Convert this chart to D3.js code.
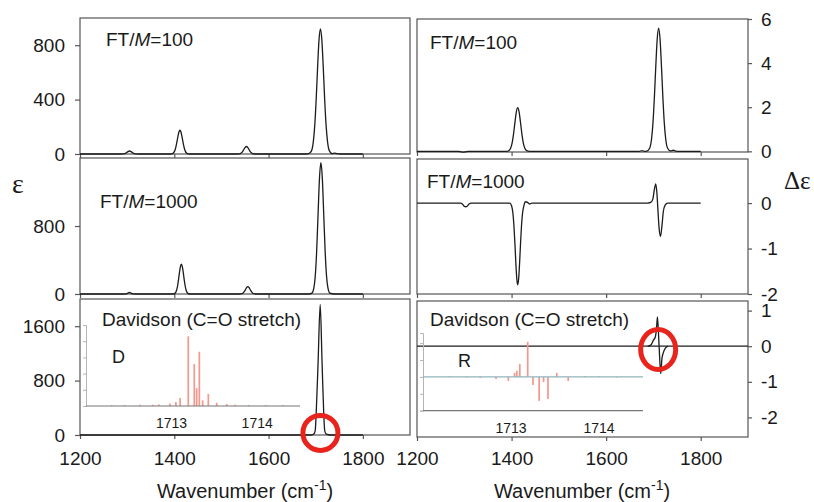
<!DOCTYPE html>
<html>
<head>
<meta charset="utf-8">
<script src="https://cdn.jsdelivr.net/npm/d3@7"></script>
<style>
body { margin: 0; background: #fff; }
svg text { font-family: "Liberation Sans", Arial, sans-serif; fill: #1a1a1a; }
</style>
</head>
<body>
<svg id="chart" width="814" height="502"></svg>
<script>
// ---- data ----
var xTicks = [1200, 1400, 1600, 1800];
var insetTicks = [1713, 1714];

// [wavenumber, epsilon]
var ftm100Eps = [[1200,0],[1285,0],[1293,1],[1297,6],[1301,16],[1305,22],[1309,16],[1313,6],[1317,1],[1325,0],
  [1390,0],[1395,1.5],[1399,11],[1402,33],[1404,61],[1406,97],[1408,134],[1410,164],[1412,175],[1414,164],[1416,134],[1418,97],[1420,61],[1422,33],[1425,11],[1429,1.5],[1435,0],
  [1535,0],[1540,3],[1544,14],[1547,30],[1550,47],[1553,55],[1556,47],[1559,30],[1562,14],[1566,3],[1571,0],
  [1680,0],[1685,2],[1691,23],[1695,93],[1698,212],[1701,403],[1704,637],[1707,839],[1710,920],[1713,839],[1716,637],[1719,403],[1722,212],[1725,93],[1729,23],[1735,3],[1740,6],[1745,2],[1752,0],[1800,0]];

var ftm1000Eps = [[1200,0],[1289,0],[1297,2],[1301,8],[1305,20],[1309,8],[1313,2],[1321,0],
  [1398,0],[1402,12],[1405,47],[1407,97],[1409,170],[1411,254],[1413,323],[1415,350],[1417,323],[1419,254],[1421,170],[1423,97],[1425,47],[1428,12],[1432,0],
  [1539,0],[1543,3],[1546,12],[1548,24],[1550,42],[1552,62],[1554,79],[1556,86],[1558,79],[1560,62],[1562,42],[1564,24],[1566,12],[1569,3],[1573,0],
  [1685,0],[1692,10],[1696,68],[1699,209],[1702,502],[1705,938],[1708,1363],[1711,1545],[1714,1363],[1717,938],[1720,502],[1723,209],[1726,68],[1730,10],[1740,0],[1800,0]];

var davidsonEps = [[1200,0],[1690,0],[1694,8],[1697,25],[1699,70],[1701,320],[1705,1060],[1709.5,1920],[1713.5,1060],[1717,320],[1719,70],[1721,25],[1725,8],[1729,0],[1800,0]];

// [wavenumber, delta epsilon]
var ftm100Delta = [[1200,0],[1288,0],[1293,-0.02],[1298,-0.04],[1303,-0.02],[1308,0],
  [1390,0],[1394,0.03],[1398,0.14],[1401,0.36],[1404,0.76],[1407,1.29],[1410,1.78],[1413,1.98],[1416,1.78],[1419,1.29],[1422,0.76],[1425,0.36],[1428,0.14],[1432,0.03],[1438,0],
  [1670,0],[1676,0.03],[1681,0],[1686,0.01],[1692,0.14],[1696,0.56],[1699,1.28],[1702,2.44],[1705,3.86],[1708,5.09],[1711,5.58],[1714,5.09],[1717,3.86],[1720,2.44],[1723,1.28],[1726,0.56],[1730,0.14],[1736,0.02],[1742,0.05],[1747,0.01],[1755,0],[1800,0]];

var ftm1000Delta = [[1200,0],[1292,0],[1296,-0.02],[1300,-0.07],[1303,-0.08],[1306,-0.07],[1310,-0.02],[1315,0],
  [1396,0],[1400,-0.06],[1403,-0.24],[1405,-0.5],[1407,-0.88],[1409,-1.31],[1411,-1.66],[1413,-1.8],[1415,-1.66],[1417,-1.31],[1419,-0.88],[1421,-0.5],[1423,-0.24],[1426,-0.06],[1429,0.03],[1433,0.02],[1438,-0.02],[1443,0],
  [1688,0],[1695,0.02],[1699,0.1],[1702,0.3],[1705,0.42],[1707.5,0.2],[1709.5,-0.15],[1712,-0.55],[1715,-0.73],[1718,-0.5],[1721,-0.18],[1725,-0.04],[1730,0],[1800,0]];

var davidsonDelta = [[1688,0],[1695,0.04],[1700,0.17],[1704,0.26],[1706.5,0.5],[1708.5,0.82],[1712,0],[1715.5,-0.77],[1718,-0.35],[1721,-0.18],[1725,-0.06],[1731,0]];

// inset stick spectra [wavenumber, intensity]
var davidsonD = [[1712.3,1],[1712.45,1],[1712.63,1.5],[1712.78,1.5],[1712.85,2],[1712.98,3],[1713.05,5],[1713.1,10],[1713.195,86],[1713.265,52],[1713.293,22],[1713.324,67],[1713.363,7],[1713.429,15],[1713.527,4],[1713.644,2.5],[1713.741,1.5],[1713.9,1],[1714.1,1],[1714.3,1]];
var davidsonR = [[1712.3,0.02],[1712.5,-0.02],[1712.65,-0.03],[1712.83,-0.06],[1712.97,-0.12],[1713.04,0.12],[1713.066,0.18],[1713.10,0.38],[1713.19,1.04],[1713.25,-0.24],[1713.32,-0.71],[1713.37,-0.15],[1713.42,-0.65],[1713.52,0.12],[1713.65,-0.12],[1713.84,0.03],[1714.0,0.02],[1714.2,-0.02]];

// red circle marks [wavenumber, value]
var circleLeft = [1710, 30];
var circleRight = [1710, -0.09];

// ---- drawing ----
var svg = d3.select("#chart");
var frameColor = "#555";
var lineColor = "#1c1c1c";
var labelBaseline = 465;
var plain = function (d) { return String(d) };   // hyphen minus, like the figure

var line = function (x, y) {
    return d3.line().x(function (d) { return x(d[0]) }).y(function (d) { return y(d[1]) }).curve(d3.curveMonotoneX);
}

function panel(cfg) {
    var x = d3.scaleLinear().domain([1200, 1900]).range([cfg.left, cfg.right]);
    var y = d3.scaleLinear().domain(cfg.yDomain).range([cfg.bottom, cfg.top]);
    var g = svg.append("g");

    g.append("rect")
        .attr("x", cfg.left).attr("y", cfg.top)
        .attr("width", cfg.right - cfg.left).attr("height", cfg.bottom - cfg.top)
        .attr("fill", "none").attr("stroke", frameColor).attr("stroke-width", 1.2);

    var xa = g.append("g")
        .attr("transform", "translate(0," + cfg.bottom + ")")
        .call(d3.axisBottom(x).tickValues(xTicks).tickSize(4)
            .tickPadding(labelBaseline - 13.5 - cfg.bottom - 4)
            .tickFormat(cfg.xLabels ? plain : function () { return "" }));
    xa.select(".domain").remove();
    xa.selectAll("line").attr("stroke", frameColor).attr("stroke-width", 1.2);
    xa.selectAll("text").style("font-size", "19px").attr("fill", "#1a1a1a");

    var axis = cfg.side == "left" ? d3.axisLeft(y).tickSize(5).tickPadding(10) : d3.axisRight(y).tickSize(4).tickPadding(9);
    var ya = g.append("g")
        .attr("transform", "translate(" + (cfg.side == "left" ? cfg.left : cfg.right) + ",0)")
        .call(axis.tickValues(cfg.yTicks).tickFormat(plain));
    ya.select(".domain").remove();
    ya.selectAll("line").attr("stroke", frameColor).attr("stroke-width", 1.2);
    ya.selectAll("text").style("font-size", "19px").attr("fill", "#1a1a1a");

    if (cfg.zeroLine) {
        g.append("line").attr("x1", cfg.left).attr("x2", cfg.right)
            .attr("y1", y(0)).attr("y2", y(0))
            .attr("stroke", lineColor).attr("stroke-width", 1.2);
    }

    g.append("path").datum(cfg.data)
        .attr("d", line(x, y))
        .attr("fill", "none").attr("stroke", lineColor).attr("stroke-width", 1.3);

    var t = g.append("text").attr("x", cfg.labelX).attr("y", cfg.labelY).style("font-size", "19px");
    if (cfg.title) {
        t.text(cfg.title);
    } else {
        t.append("tspan").text("FT/");
        t.append("tspan").style("font-style", "italic").text("M");
        t.append("tspan").text("=" + cfg.ft);
    }
    return { x: x, y: y, g: g };
}

var p1 = panel({ left: 80, right: 410, top: 18, bottom: 154, yDomain: [0, 1000], yTicks: [0, 400, 800], side: "left", data: ftm100Eps, ft: 100, labelX: 106, labelY: 46 });
var p2 = panel({ left: 80, right: 410, top: 158, bottom: 294, yDomain: [0, 1600], yTicks: [0, 800], side: "left", data: ftm1000Eps, ft: 1000, labelX: 100, labelY: 208 });
var p3 = panel({ left: 80, right: 410, top: 299, bottom: 435, yDomain: [0, 2000], yTicks: [0, 800, 1600], side: "left", data: davidsonEps, title: "Davidson (C=O stretch)", labelX: 102, labelY: 326, xLabels: true });
var p4 = panel({ left: 417, right: 748, top: 19, bottom: 152, yDomain: [-0.03, 6], yTicks: [0, 2, 4, 6], side: "right", data: ftm100Delta, ft: 100, labelX: 430, labelY: 49 });
var p5 = panel({ left: 417, right: 748, top: 159, bottom: 294, yDomain: [-2, 0.97], yTicks: [-2, -1, 0], side: "right", data: ftm1000Delta, ft: 1000, labelX: 427, labelY: 188 });
var p6 = panel({ left: 417, right: 748, top: 301, bottom: 437, yDomain: [-2.55, 1.27], yTicks: [-2, -1, 0, 1], side: "right", data: davidsonDelta, title: "Davidson (C=O stretch)", labelX: 430, labelY: 326, xLabels: true, zeroLine: true });

// ---- insets ----
function inset(cfg) {
    var x = d3.scaleLinear().domain([1712, 1714.5]).range([cfg.left, cfg.right]);
    var y = d3.scaleLinear().domain(cfg.yDomain).range([cfg.bottom, cfg.top]);
    var g = svg.append("g");

    var ya = g.append("g").attr("transform", "translate(" + cfg.left + ",0)")
        .call(d3.axisLeft(y).ticks(5).tickSize(3).tickFormat(function () { return "" }));
    ya.selectAll("path, line").attr("stroke", "#b5b5b5");

    g.selectAll(null).data(cfg.data).enter().append("line")
        .attr("x1", function (d) { return x(d[0]) }).attr("x2", function (d) { return x(d[0]) })
        .attr("y1", y(0)).attr("y2", function (d) { return y(d[1]) })
        .attr("stroke", "#f4978c").attr("stroke-width", 1.7);

    if (cfg.zeroColor) {
        g.append("line").attr("x1", cfg.left).attr("x2", cfg.right).attr("y1", y(0)).attr("y2", y(0))
            .attr("stroke", cfg.zeroColor).attr("stroke-width", 1.2);
    }
    g.append("line").attr("x1", cfg.left).attr("x2", cfg.right).attr("y1", cfg.bottom).attr("y2", cfg.bottom)
        .attr("stroke", "#777").attr("stroke-width", 1.2);

    g.selectAll(null).data(insetTicks).enter().append("text")
        .attr("x", function (d) { return x(d) }).attr("y", cfg.labelY)
        .attr("text-anchor", "middle").style("font-size", "14px").text(function (d) { return d });

    g.append("text").attr("x", cfg.tagX).attr("y", cfg.tagY).style("font-size", "18px").text(cfg.tag);
}

inset({ left: 86, right: 300, top: 325, bottom: 406, yDomain: [0, 100], data: davidsonD, labelY: 428, tag: "D", tagX: 112, tagY: 363 });
inset({ left: 423, right: 643, top: 333, bottom: 410.7, yDomain: [-1, 1.3], data: davidsonR, labelY: 433, tag: "R", tagX: 458, tagY: 367, zeroColor: "#8fb5bd" });

// ---- red circles ----
svg.append("ellipse").attr("cx", p3.x(circleLeft[0])).attr("cy", p3.y(circleLeft[1]))
    .attr("rx", 17.5).attr("ry", 17.5)
    .attr("fill", "none").attr("stroke", "#e8241c").attr("stroke-width", 5);
svg.append("ellipse").attr("cx", p6.x(circleRight[0])).attr("cy", p6.y(circleRight[1]))
    .attr("rx", 17.5).attr("ry", 20)
    .attr("fill", "none").attr("stroke", "#e8241c").attr("stroke-width", 5);

// ---- axis titles ----
function wnTitle(cx) {
    var t = svg.append("text").attr("x", cx).attr("y", 498).attr("text-anchor", "middle").style("font-size", "20px");
    t.append("tspan").text("Wavenumber (cm");
    t.append("tspan").attr("dy", -8).style("font-size", "14px").text("-1");
    t.append("tspan").attr("dy", 8).text(")");
}
wnTitle(245);
wnTitle(582);

svg.append("text").attr("x", 18).attr("y", 193).attr("text-anchor", "middle")
    .style("font-family", "'Liberation Serif', 'Times New Roman', serif").style("font-size", "28px").text("ε");
svg.append("text").attr("x", 784).attr("y", 189)
    .style("font-family", "'Liberation Serif', 'Times New Roman', serif").style("font-size", "25px").text("Δε");
</script>
</body>
</html>
